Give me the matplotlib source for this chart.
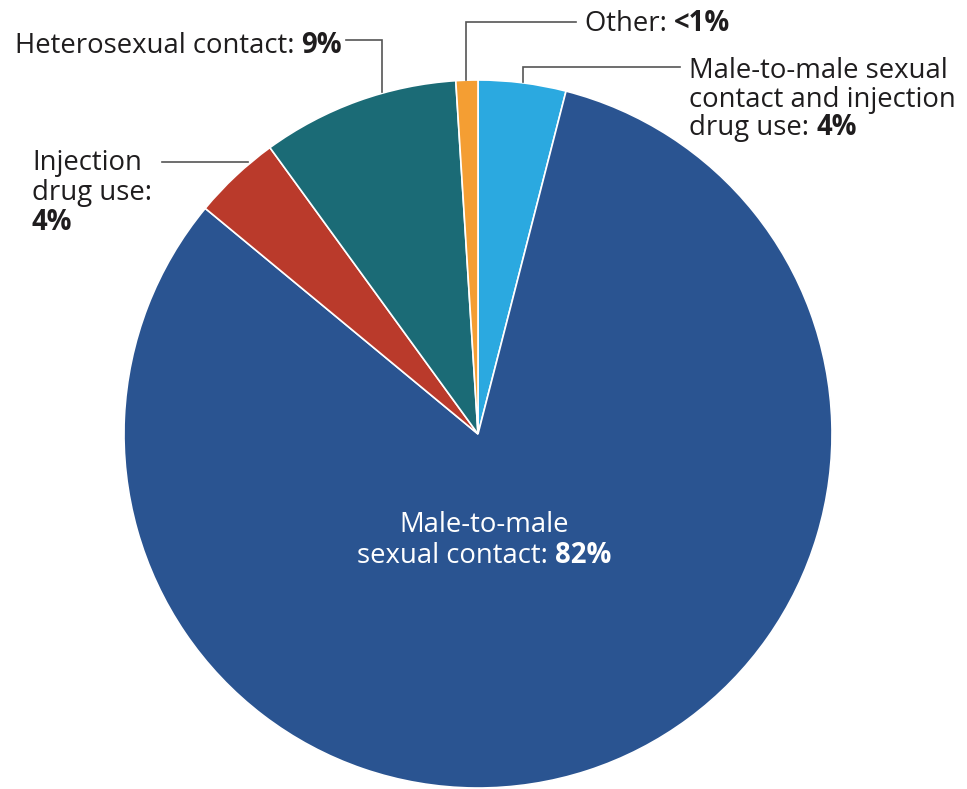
import matplotlib
matplotlib.use("Agg")
import matplotlib.pyplot as plt

# Share of diagnoses by transmission category (clockwise from 12 o'clock)
categories = [
    "Male-to-male sexual contact and injection drug use",
    "Male-to-male sexual contact",
    "Injection drug use",
    "Heterosexual contact",
    "Other",
]
shares = [4, 82, 4, 9, 1]
share_labels = ["4%", "82%", "4%", "9%", "<1%"]
colors = ["#2BA9E0", "#2A5491", "#BA3A2B", "#1B6B76", "#F49E33"]

W, H = 967, 789
FONT = "Open Sans"
FS = 19.8
TXT = "#1f1d1e"
LEADER = "#555555"

fig = plt.figure(figsize=(W / 100, H / 100), dpi=100)
ax = fig.add_axes([0, 0, 1, 1])

cx, cy, r = 478, 434, 354
# with an inverted y axis, counterclock=True runs clockwise on screen
ax.pie(shares, colors=colors, startangle=-90, counterclock=True,
       center=(cx, cy), radius=r, frame=True,
       wedgeprops=dict(edgecolor="white", linewidth=1.2))
ax.set_xlim(0, W)
ax.set_ylim(H, 0)  # pixel-like coordinates, y grows downward
ax.set_aspect("equal")
ax.axis("off")

renderer = fig.canvas.get_renderer()


def rich_line(x, y, parts, ha="left", color=TXT, size=FS):
    """Draw one baseline of text made of (string, weight) pieces."""
    texts = []
    for s, w in parts:
        t = ax.text(0, y, s, fontsize=size, fontweight=w, family=FONT,
                    color=color, ha="left", va="baseline")
        texts.append(t)
    widths = [t.get_window_extent(renderer).width for t in texts]
    total = sum(widths)
    x0 = x - total / 2 if ha == "center" else (x - total if ha == "right" else x)
    for t, w in zip(texts, widths):
        t.set_x(x0)
        x0 += w
    return texts


# Heterosexual contact
rich_line(15, 53, [("Heterosexual contact: ", "normal"), (share_labels[3], "bold")])
ax.plot([346, 382, 382], [40, 40, 92], color=LEADER, lw=1.2, solid_joinstyle="miter")

# Injection drug use
rich_line(32, 170, [("Injection", "normal")])
rich_line(32, 200, [("drug use:", "normal")])
rich_line(32, 230, [(share_labels[2], "bold")])
ax.plot([162, 248], [162, 162], color=LEADER, lw=1.2)

# Other
rich_line(585, 31, [("Other: ", "normal"), (share_labels[4], "bold")])
ax.plot([466, 466, 576], [80, 22, 22], color=LEADER, lw=1.2, solid_joinstyle="miter")

# Male-to-male sexual contact and injection drug use
rich_line(689, 78, [("Male-to-male sexual", "normal")])
rich_line(689, 107, [("contact and injection", "normal")])
rich_line(689, 135, [("drug use: ", "normal"), (share_labels[0], "bold")])
ax.plot([523, 523, 680], [82, 67, 67], color=LEADER, lw=1.2, solid_joinstyle="miter")

# Male-to-male sexual contact (inside the pie)
rich_line(484, 532, [("Male-to-male", "normal")], ha="center", color="white")
rich_line(484, 563, [("sexual contact: ", "normal"), (share_labels[1], "bold")],
          ha="center", color="white")

fig.savefig("out.png", dpi=100, facecolor="white")
